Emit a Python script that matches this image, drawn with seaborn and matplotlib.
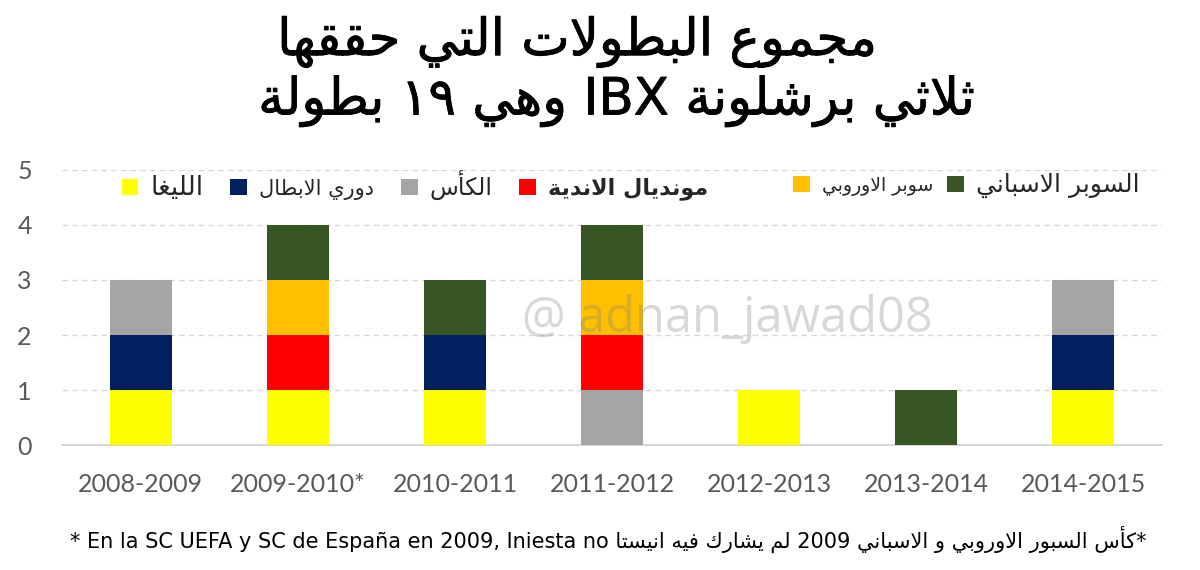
import numpy as np
import pandas as pd
import matplotlib
matplotlib.use('Agg')
import matplotlib.pyplot as plt
import matplotlib.patheffects as pe
from matplotlib.patches import Patch
import seaborn as sns

# Data
seasons = ['2008-2009', '2009-2010*', '2010-2011', '2011-2012', '2012-2013', '2013-2014', '2014-2015']
liga = [1, 1, 1, 0, 1, 0, 1]
champions = [1, 0, 1, 0, 0, 0, 1]
copa = [1, 0, 0, 1, 0, 0, 1]
club_wc = [0, 1, 0, 1, 0, 0, 0]
uefa_super = [0, 1, 0, 1, 0, 0, 0]
spain_super = [0, 1, 1, 1, 0, 1, 0]

series_names = ['الليغا', 'دوري الابطال', 'الكأس', 'مونديال الاندية', 'سوبر الاوروبي', 'السوبر الاسباني']
series_colors = ['#FFFF00', '#002060', '#A5A5A5', '#FF0000', '#FFC000', '#375623']

title_1 = 'مجموع البطولات التي حققها'
title_2 = 'ثلاثي برشلونة IBX وهي ١٩ بطولة'
note_es = '* En la SC UEFA y SC de España en 2009, Iniesta no'
note_ar = '*كأس السبور الاوروبي و الاسباني 2009 لم يشارك فيه انيستا'
watermark = '@ adnan_jawad08'

# Arabic shaping (matplotlib has no text shaping / bidi)
AR = {
    'ء': (0xFE80, 1), 'آ': (0xFE81, 2), 'أ': (0xFE83, 2), 'ؤ': (0xFE85, 2),
    'إ': (0xFE87, 2), 'ئ': (0xFE89, 4), 'ا': (0xFE8D, 2), 'ب': (0xFE8F, 4),
    'ة': (0xFE93, 2), 'ت': (0xFE95, 4), 'ث': (0xFE99, 4), 'ج': (0xFE9D, 4),
    'ح': (0xFEA1, 4), 'خ': (0xFEA5, 4), 'د': (0xFEA9, 2), 'ذ': (0xFEAB, 2),
    'ر': (0xFEAD, 2), 'ز': (0xFEAF, 2), 'س': (0xFEB1, 4), 'ش': (0xFEB5, 4),
    'ص': (0xFEB9, 4), 'ض': (0xFEBD, 4), 'ط': (0xFEC1, 4), 'ظ': (0xFEC5, 4),
    'ع': (0xFEC9, 4), 'غ': (0xFECD, 4), 'ف': (0xFED1, 4), 'ق': (0xFED5, 4),
    'ك': (0xFED9, 4), 'ل': (0xFEDD, 4), 'م': (0xFEE1, 4), 'ن': (0xFEE5, 4),
    'ه': (0xFEE9, 4), 'و': (0xFEED, 2), 'ى': (0xFEEF, 2), 'ي': (0xFEF1, 4),
}
LAM_ALEF = {'آ': 0xFEF5, 'أ': 0xFEF7, 'إ': 0xFEF9, 'ا': 0xFEFB}


def shape(word):
    items = []
    i = 0
    while i < len(word):
        c = word[i]
        if c == 'ل' and i + 1 < len(word) and word[i + 1] in LAM_ALEF:
            items.append((LAM_ALEF[word[i + 1]], 2, c))
            i += 2
        elif c in AR:
            items.append((AR[c][0], AR[c][1], c))
            i += 1
        else:
            items.append((None, 0, c))
            i += 1
    out = []
    for k, (base, n, c) in enumerate(items):
        if base is None:
            out.append(c)
            continue
        prev_j = k > 0 and items[k - 1][1] == 4
        next_j = n == 4 and k + 1 < len(items) and items[k + 1][1] >= 2
        if n == 1:
            f = 0
        elif n == 2:
            f = 1 if prev_j else 0
        else:
            f = 3 if (prev_j and next_j) else 1 if prev_j else 2 if next_j else 0
        out.append(chr(base + f))
    return ''.join(out)


def rtl(text):
    words = text.split(' ')
    out = []
    for w in reversed(words):
        if any('\u0621' <= ch <= '\u064A' for ch in w):
            out.append(shape(w)[::-1])
        else:
            out.append(w)
    return ' '.join(out)


sns.set_style('white')
plt.rcParams['font.family'] = ['DejaVu Sans']

fig = plt.figure(figsize=(12, 5.7), dpi=100)
ax = fig.add_axes([0.052, 0.219, 0.916, 0.483])

layers = np.cumsum(np.array([liga, champions, copa, club_wc, uefa_super, spain_super]), axis=0)
for i in range(len(layers) - 1, -1, -1):
    sns.barplot(x=seasons, y=layers[i], color=series_colors[i], saturation=1,
                width=0.4, linewidth=0, ax=ax, zorder=3)

ax.set_ylim(0, 5)
ax.set_xlim(-0.5, 6.5)
ax.set_yticks(range(6))
ax.set_axisbelow(True)
ax.yaxis.grid(True, color='#D9D9D9', linestyle=(0, (4, 3)), linewidth=1)
for s in ['left', 'right', 'top']:
    ax.spines[s].set_visible(False)
ax.spines['bottom'].set_color('#D0D0D0')
ax.spines['bottom'].set_linewidth(1.2)
ax.tick_params(axis='both', length=0, labelcolor='#595959')
ax.tick_params(axis='x', pad=20)
ax.tick_params(axis='y', pad=22)
for lab in ax.get_xticklabels() + ax.get_yticklabels():
    lab.set_fontfamily('Lato')
    lab.set_fontsize(18)
ax.set_xlabel('')
ax.set_ylabel('')

# legend in two groups, like the reference
handles = [Patch(facecolor=c, edgecolor='none') for c in series_colors]
labels = [rtl(n) for n in series_names]
leg_kw = dict(frameon=False, loc='center left', handlelength=0.75, handleheight=0.75,
              handletextpad=0.55, borderaxespad=0, borderpad=0)
leg1 = ax.legend(handles[:4], labels[:4], ncol=4, fontsize=16, columnspacing=1.2,
                 bbox_to_anchor=(0.054, 0.945), **leg_kw)
t1 = leg1.get_texts()
t1[0].set_fontsize(19)
t1[1].set_fontsize(15)
t1[2].set_fontsize(17)
t1[3].set_fontweight('bold')
ax.add_artist(leg1)
leg2 = ax.legend(handles[4:], labels[4:], ncol=2, fontsize=16, columnspacing=0.6,
                 bbox_to_anchor=(0.665, 0.945), **leg_kw)
t2 = leg2.get_texts()
t2[0].set_fontsize(13.5)
t2[1].set_fontsize(18)

ax.text(0.605, 0.46, watermark, transform=ax.transAxes, ha='center', va='center',
        fontsize=35, color='#808080', alpha=0.3, family='Open Sans', zorder=5)

thick = [pe.withStroke(linewidth=0.6, foreground='black')]
fig.text(0.481, 0.926, rtl(title_1), ha='center', va='center', fontsize=37,
         color='black', path_effects=thick)
fig.text(0.514, 0.822, rtl(title_2), ha='center', va='center', fontsize=37,
         color='black', path_effects=thick)

fig.text(0.507, 0.053, note_es + ' ' + rtl(note_ar), ha='center', va='center',
         fontsize=15, color='black')

fig.savefig('out.png', dpi=100, facecolor='white')
